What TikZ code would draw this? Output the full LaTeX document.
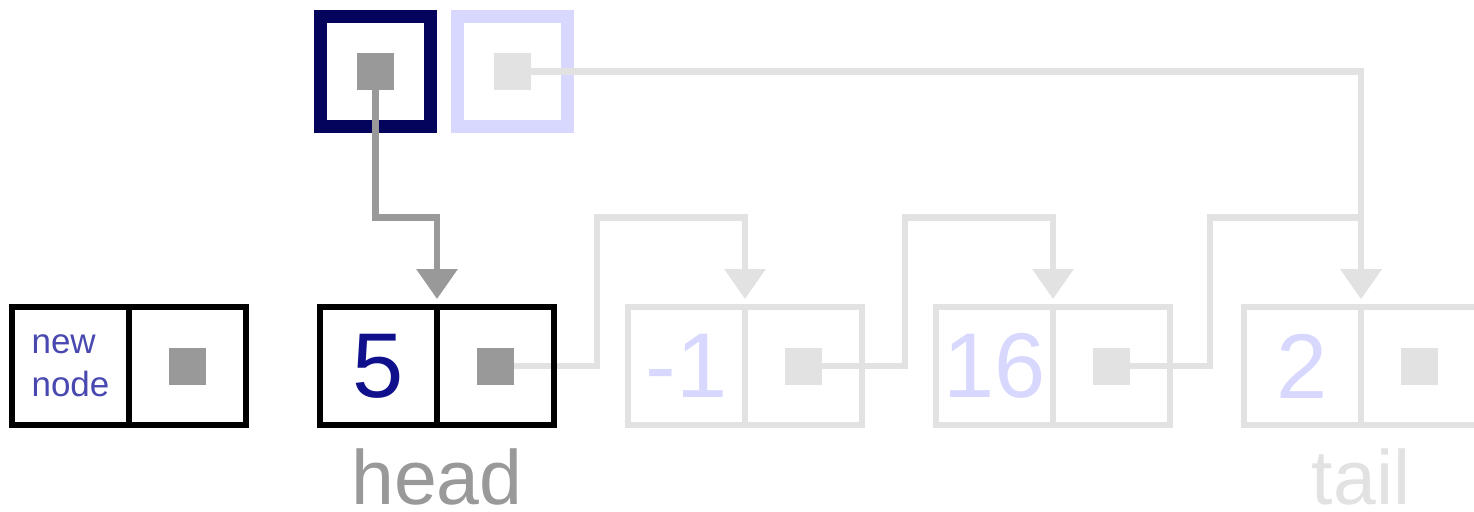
\documentclass[tikz,border=0pt]{standalone}
\usepackage{fontspec}
\setmainfont{Liberation Sans}
\usetikzlibrary{arrows.meta,positioning}
\pgfdeclarelayer{background}
\pgfsetlayers{background,main}

\definecolor{navyedge}{RGB}{4,4,92}
\definecolor{paleblue}{RGB}{216,216,255}
\definecolor{valblue}{RGB}{16,16,140}
\definecolor{textblue}{RGB}{72,72,176}
\definecolor{ptrgray}{RGB}{153,153,153}
\definecolor{fadegray}{RGB}{226,226,226}

\begin{document}
\begin{tikzpicture}[x=1pt,y=-1pt,
    cell/.style={draw,line width=6pt,minimum width=117pt,minimum height=118pt,
                 inner sep=0pt,outer sep=0pt,font=\fontsize{92}{92}\selectfont},
    live/.style={cell,draw=black,text=valblue},
    faded/.style={cell,draw=fadegray,text=paleblue},
    ptrdot/.style={fill=#1,minimum size=37pt,inner sep=0pt,outer sep=0pt},
    refbox/.style={draw=#1,line width=13pt,minimum size=110pt,inner sep=0pt,outer sep=0pt},
    link/.style={draw=#1,line width=6.5pt,-{Triangle[width=40pt,length=30pt]},
                 shorten >=8pt},
    labeltxt/.style={text=#1,font=\fontsize{77}{77}\selectfont,anchor=base,
                     inner sep=0pt}]
  \useasboundingbox (0,0) rectangle (1474,511);

  \path   (70.5,366) node[live,text=textblue,align=left,
                          font=\fontsize{35}{43}\selectfont] (newval) {new\\node}
         +(117,0) node[live]  (newptr)  {}
        ++(308,0) node[live]  (headval) {5}
         +(117,0) node[live]  (headptr) {}
        ++(308,0) node[faded] (midval)  {-1}
         +(117,0) node[faded] (midptr)  {}
        ++(308,0) node[faded] (nextval) {16}
         +(117,0) node[faded] (nextptr) {}
        ++(308,0) node[faded] (tailval) {2}
         +(117,0) node[faded] (tailptr) {};

  \node[ptrdot=ptrgray]  (newdot)  at (newptr)  {};
  \node[ptrdot=ptrgray]  (headdot) at (headptr) {};
  \node[ptrdot=fadegray] (middot)  at (midptr)  {};
  \node[ptrdot=fadegray] (nextdot) at (nextptr) {};
  \node[ptrdot=fadegray] (taildot) at (tailptr) {};

  \node[ptrdot=ptrgray]  (headrefdot) at (375.5,71.5) {};
  \node[ptrdot=fadegray] (tailrefdot) at (512.5,71.5) {};

  \node[labeltxt=ptrgray]  (headlabel) at ([yshift=-79pt]headval.south east) {head};
  \node[labeltxt=fadegray] (taillabel) at ([yshift=-79pt]tailval.south east) {tail};

  \begin{pgfonlayer}{background}
    \node[refbox=navyedge] (headref) at (headrefdot) {};
    \node[refbox=paleblue] (tailref) at (tailrefdot) {};

    \draw[link=ptrgray]  (headrefdot) |- ([yshift=89.5pt]headval.north east)
                                      -- (headval.north east);
    \draw[link=fadegray] (tailrefdot) -| (tailval.north east);
    \draw[link=fadegray] (headdot) -- +(101.5,0) |- ([yshift=89.5pt]midval.north east)
                                   -- (midval.north east);
    \draw[link=fadegray] (middot)  -- +(101.5,0) |- ([yshift=89.5pt]nextval.north east)
                                   -- (nextval.north east);
    \draw[link=fadegray] (nextdot) -- +(98.5,0)  |- ([yshift=89.5pt]tailval.north east)
                                   -- (tailval.north east);
  \end{pgfonlayer}
\end{tikzpicture}
\end{document}
